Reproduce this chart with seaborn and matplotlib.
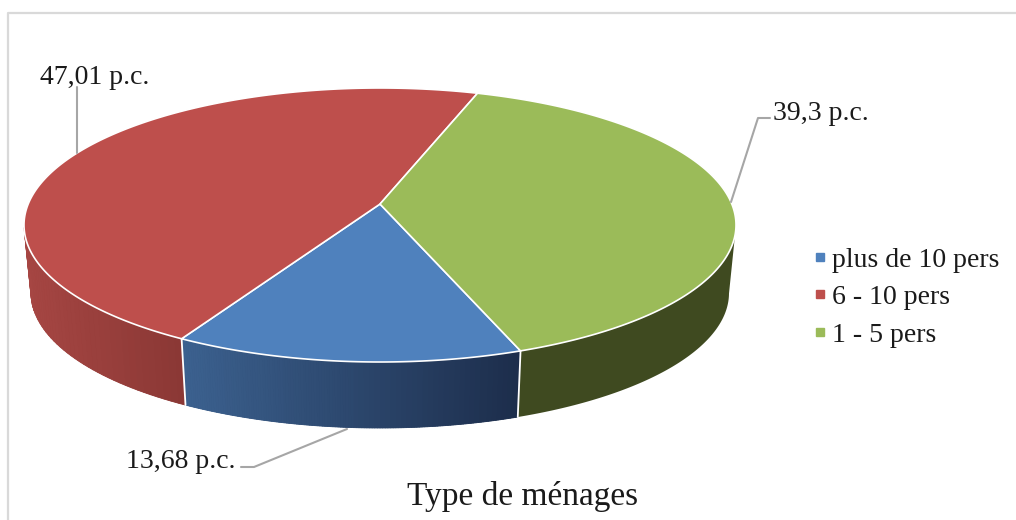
import numpy as np
import seaborn as sns
import matplotlib.pyplot as plt
from matplotlib.lines import Line2D

categories = ['plus de 10 pers', '6 - 10 pers', '1 - 5 pers']
shares = [13.68, 47.01, 39.3]
share_labels = ['13,68 p.c.', '47,01 p.c.', '39,3 p.c.']
top_colors = ['#4F81BD', '#BE4F4C', '#9BBB59']
side_left = ['#3C618F', '#A64643', '#3F4A20']
side_right = ['#1C2D4B', '#8B3835', '#3F4A20']
title = 'Type de ménages'

# pie shape in pixels (the top disc is drawn in perspective)
first_angle = 160.0
cx, cy, rx, ry = 380, 225, 356, 137
bx, by, brx, bry = 380, 293, 349, 135
tilt = -0.153

sns.set_theme(style='white')
plt.rcParams['font.family'] = ['Liberation Serif', 'DejaVu Serif']

fig = plt.figure(figsize=(10.16, 5.2), dpi=100)
ax = fig.add_axes([0, 0, 1, 1])
ax.set_xlim(0, 1016)
ax.set_ylim(520, 0)
ax.axis('off')


def disc(theta):
    # unit disc seen in perspective, theta clockwise from the top
    u = np.sin(np.radians(theta))
    v = -np.cos(np.radians(theta))
    den = 1 + tilt * v
    return u * np.sqrt(1 - tilt ** 2) / den, (v + tilt) / den


fractions = np.array(shares) / sum(shares)
starts = first_angle + 360 * np.concatenate([[0], np.cumsum(fractions)[:-1]])
ends = starts + 360 * fractions

# side walls: one solid piece, then thin strips on top for the gradient
for a, b, c_left, c_right in zip(starts, ends, side_left, side_right):
    th = np.linspace(a, b, 400)
    U, V = disc(th)
    th, U, V = th[V >= 0], U[V >= 0], V[V >= 0]
    if len(th) < 2:
        continue
    xt, yt = cx + rx * U, cy + ry * V
    xb, yb = bx + brx * U, by + bry * V
    pal = sns.blend_palette([c_left, c_right], 64)
    ax.fill(np.r_[xt, xb[::-1]], np.r_[yt, yb[::-1]], color=pal[32], lw=0, zorder=1)
    if c_left == c_right:
        continue
    span = xt.max() - xt.min()
    step = 3
    for i in range(0, len(th) - step, step):
        k = int((xt[i] - xt.min()) / span * 63)
        ax.fill([xt[i], xt[i + step], xb[i + step], xb[i]],
                [yt[i], yt[i + step], yb[i + step], yb[i]],
                color=pal[k], lw=0.6, zorder=1.1)

# white joints between the walls
for t in starts:
    U, V = disc(t)
    if V > 0:
        ax.plot([cx + rx * U, bx + brx * U], [cy + ry * V, by + bry * V],
                color='white', lw=1.3, zorder=1.5)

# top of the pie
ax_, ay_ = cx, cy + ry * tilt
for a, b, col in zip(starts, ends, top_colors):
    U, V = disc(np.linspace(a, b, 300))
    ax.fill(np.r_[ax_, cx + rx * U], np.r_[ay_, cy + ry * V],
            facecolor=col, edgecolor='white', lw=1.2, joinstyle='round', zorder=2)

# chart frame, only top and left show
ax.plot([8, 8, 1016], [520, 13, 13], color='#D9D9D9', lw=1.6, zorder=0)

# leader lines
line_col = '#A6A6A6'
ax.plot([347, 254, 241], [429, 467, 467], color=line_col, lw=1.5, zorder=3)
ax.plot([77, 77], [153, 87], color=line_col, lw=1.5, zorder=3)
ax.plot([731, 758, 770], [202, 118, 118], color=line_col, lw=1.5, zorder=3)

# data labels
label_pos = [(126, 462), (40, 77), (773, 113)]
for txt, (x, y) in zip(share_labels, label_pos):
    ax.text(x, y, txt, fontsize=20, color='#1A1A1A', ha='left', va='center')

ax.text(523, 496, title, fontsize=24, color='#1A1A1A', ha='center', va='center')

handles = [Line2D([], [], ls='', marker='s', ms=6, color=c) for c in top_colors]
ax.legend(handles, categories, loc='center left', bbox_to_anchor=(0.776, 0.428),
          frameon=False, fontsize=20, handlelength=0.5, handletextpad=0.16,
          labelspacing=0.43, labelcolor='#1A1A1A')

fig.savefig('out.png', dpi=100)
